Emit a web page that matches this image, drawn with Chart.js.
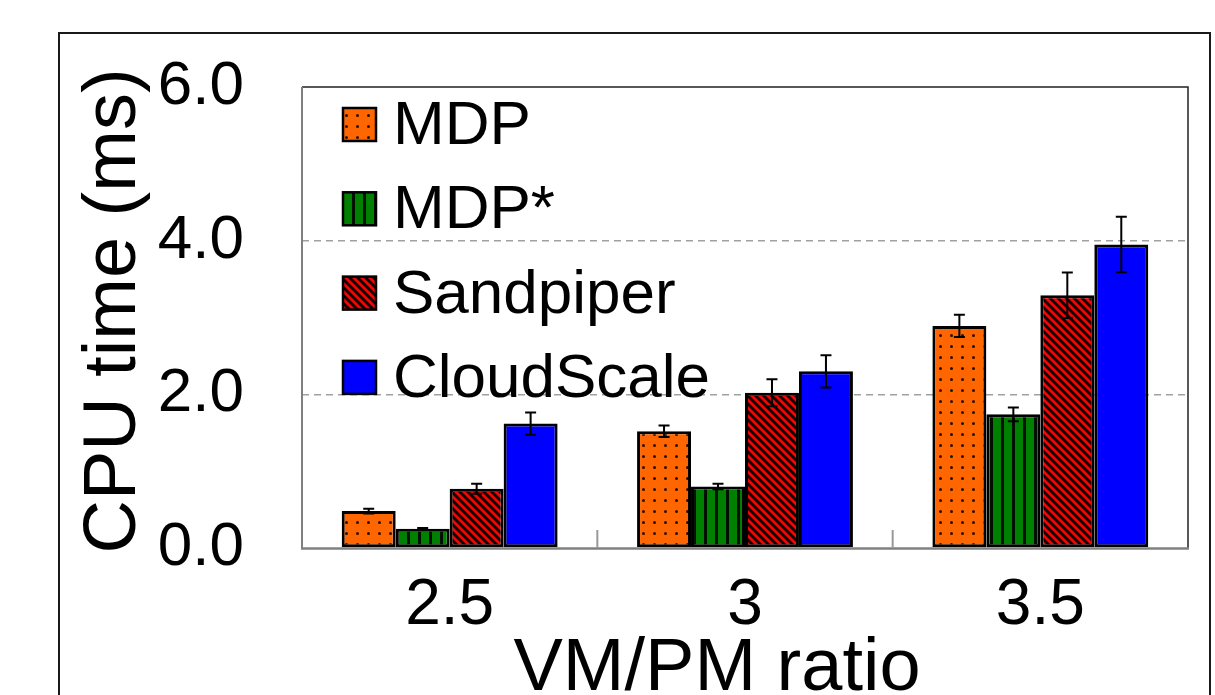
<!DOCTYPE html>
<html>
<head>
<meta charset="utf-8">
<script src="https://cdn.jsdelivr.net/npm/chart.js@4.4.1/dist/chart.umd.min.js"></script>
<style>
  html, body { margin: 0; padding: 0; background: #fff; }
  #wrap { width: 1215px; height: 695px; position: relative; }
</style>
</head>
<body>
<div id="wrap"><canvas id="c"></canvas></div>
<script>
// ---- data ----
const categories = ['2.5', '3', '3.5'];
const seriesNames = ['MDP', 'MDP*', 'Sandpiper', 'CloudScale'];
const mdpValues = [0.48, 1.52, 2.89];
const mdpErrors = [0.03, 0.075, 0.145];
const mdpStarValues = [0.25, 0.80, 1.74];
const mdpStarErrors = [0.01, 0.035, 0.09];
const sandpiperValues = [0.77, 2.02, 3.29];
const sandpiperErrors = [0.065, 0.175, 0.295];
const cloudScaleValues = [1.62, 2.30, 3.95];
const cloudScaleErrors = [0.145, 0.21, 0.36];
const yTickLabels = ['0.0', '2.0', '4.0', '6.0'];
const xTitle = 'VM/PM ratio';
const yTitle = 'CPU time (ms)';

const FONT = '"Liberation Sans", Arial, sans-serif';

function makePattern(kind) {
  const c = document.createElement('canvas');
  const g = c.getContext('2d');
  if (kind === 'dots') {
    c.width = 11; c.height = 11;
    g.fillStyle = '#FF6600'; g.fillRect(0, 0, 11, 11);
    g.fillStyle = 'rgba(30,10,0,0.95)';
    g.beginPath(); g.arc(5.5, 5.5, 1.5, 0, Math.PI * 2); g.fill();
  } else if (kind === 'vlines') {
    c.width = 11; c.height = 11;
    g.fillStyle = '#008000'; g.fillRect(0, 0, 11, 11);
    g.fillStyle = '#001000'; g.fillRect(0, 0, 3, 11);
  } else if (kind === 'diag') {
    c.width = 8; c.height = 8;
    g.fillStyle = '#FF0000'; g.fillRect(0, 0, 8, 8);
    g.strokeStyle = '#000'; g.lineWidth = 2.8;
    g.beginPath();
    for (let k = -2; k <= 2; k++) {
      g.moveTo(k * 8 - 1, -1); g.lineTo(k * 8 + 9, 9);
    }
    g.stroke();
  } else {
    c.width = 4; c.height = 4;
    g.fillStyle = '#0000FF'; g.fillRect(0, 0, 4, 4);
  }
  return g.createPattern(c, 'repeat');
}

const ctx = document.getElementById('c').getContext('2d');
const fills = [makePattern('dots'), makePattern('vlines'), makePattern('diag'), makePattern('solid')];
const valueSets = [mdpValues, mdpStarValues, sandpiperValues, cloudScaleValues];
const errorSets = [mdpErrors, mdpStarErrors, sandpiperErrors, cloudScaleErrors];

const datasets = seriesNames.map((name, i) => ({
  label: name,
  data: valueSets[i],
  errors: errorSets[i],
  backgroundColor: fills[i],
  borderColor: '#000',
  borderWidth: 3,
  borderSkipped: false,
  categoryPercentage: 0.731,
  barPercentage: 1.0
}));

const decor = {
  id: 'decor',
  beforeDraw(chart) {
    const c = chart.ctx;
    c.save();
    c.fillStyle = '#fff';
    c.fillRect(0, 0, chart.width, chart.height);
    // outer frame
    c.strokeStyle = '#1a1a1a'; c.lineWidth = 2;
    c.strokeRect(59, 33, 1151, 700);
    c.restore();
  },
  afterDatasetsDraw(chart) {
    const c = chart.ctx;
    const ys = chart.scales.y, xs = chart.scales.x;
    const a = chart.chartArea;
    c.save();
    // error bars
    c.strokeStyle = '#000'; c.lineWidth = 2;
    chart.data.datasets.forEach((ds, di) => {
      const meta = chart.getDatasetMeta(di);
      meta.data.forEach((bar, j) => {
        const v = ds.data[j], e = ds.errors[j];
        const yt = ys.getPixelForValue(v + e), yb = ys.getPixelForValue(v - e);
        c.beginPath();
        c.moveTo(bar.x, yt); c.lineTo(bar.x, yb);
        c.moveTo(bar.x - 5.5, yt); c.lineTo(bar.x + 5.5, yt);
        c.moveTo(bar.x - 5.5, yb); c.lineTo(bar.x + 5.5, yb);
        c.stroke();
      });
    });
    // plot frame
    c.lineWidth = 1.5; c.strokeStyle = '#222';
    c.beginPath();
    c.moveTo(a.left, a.top); c.lineTo(a.right, a.top); c.lineTo(a.right, a.bottom);
    c.stroke();
    c.lineWidth = 2; c.strokeStyle = '#808080';
    c.beginPath();
    c.moveTo(a.left, a.top); c.lineTo(a.left, a.bottom + 1);
    c.stroke();
    c.lineWidth = 2.5;
    c.beginPath();
    c.moveTo(a.left - 1, a.bottom + 0.5); c.lineTo(a.right + 1, a.bottom + 0.5);
    c.stroke();
    // category separator ticks (pointing up)
    c.lineWidth = 2; c.strokeStyle = '#999';
    for (let i = 0; i < categories.length - 1; i++) {
      const xb = (xs.getPixelForValue(i) + xs.getPixelForValue(i + 1)) / 2;
      c.beginPath(); c.moveTo(xb, a.bottom); c.lineTo(xb, a.bottom - 18); c.stroke();
    }
    // legend
    c.font = '62px ' + FONT;
    c.textBaseline = 'middle';
    c.textAlign = 'left';
    chart.data.datasets.forEach((ds, i) => {
      const cy = a.top + 38 + i * 84.3;
      const bx = a.left + 41;
      c.fillStyle = ds.backgroundColor;
      c.fillRect(bx, cy - 17, 33, 33);
      c.lineWidth = 2.5; c.strokeStyle = '#000';
      c.strokeRect(bx, cy - 17, 33, 33);
      c.fillStyle = '#000';
      c.fillText(ds.label, bx + 50, cy + 2);
    });
    // axis titles
    c.font = '74px ' + FONT;
    c.textAlign = 'center';
    c.textBaseline = 'alphabetic';
    c.fillText(xTitle, 717, 690);
    c.translate(135, 311);
    c.rotate(-Math.PI / 2);
    c.fillText(yTitle, 0, 0);
    c.restore();
  }
};

new Chart(ctx, {
  type: 'bar',
  data: { labels: categories, datasets },
  options: {
    responsive: true,
    maintainAspectRatio: false,
    animation: false,
    events: [],
    layout: { padding: { left: 0, right: 27, top: 87, bottom: 0 } },
    plugins: { legend: { display: false }, tooltip: { enabled: false } },
    scales: {
      x: {
        grid: { display: false, drawTicks: false },
        border: { display: false },
        ticks: { color: '#000', font: { family: FONT, size: 64 }, padding: 20, maxRotation: 0 },
        afterFit(s) { s.height = 147; s.paddingLeft = 0; s.paddingRight = 0; }
      },
      y: {
        min: 0, max: 6,
        grid: {
          drawTicks: false,
          color: (c) => (c.tick && (c.tick.value === 2 || c.tick.value === 4)) ? '#a0a0a0' : 'rgba(0,0,0,0)',
          lineWidth: 1.5
        },
        border: { display: false, dash: [7, 5] },
        ticks: {
          stepSize: 2,
          color: '#000',
          font: { family: FONT, size: 62 },
          padding: 58,
          callback: (v, i) => yTickLabels[i]
        },
        afterFit(s) { s.width = 302; s.paddingTop = 0; s.paddingBottom = 0; }
      }
    }
  },
  plugins: [decor]
});
</script>
</body>
</html>
